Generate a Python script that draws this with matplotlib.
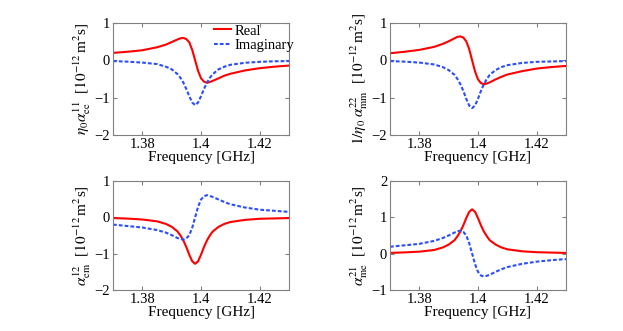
import numpy as np
import matplotlib
matplotlib.use("Agg")
import matplotlib.pyplot as plt

plt.rcParams['font.family'] = ['Liberation Serif', 'DejaVu Serif']
plt.rcParams['mathtext.fontset'] = 'stix'

#-----------------------------------------------
# data

freq = [1.370, 1.375, 1.380, 1.385, 1.388, 1.390, 1.392, 1.393, 1.394, 1.395,
        1.396, 1.397, 1.398, 1.399, 1.400, 1.401, 1.402, 1.403, 1.404, 1.406,
        1.408, 1.410, 1.415, 1.420, 1.425, 1.430]

# eta0 * alpha_ee^11
ee_real = [0.20, 0.23, 0.27, 0.35, 0.42, 0.49, 0.56, 0.59, 0.60, 0.57,
           0.48, 0.28, 0.00, -0.28, -0.48, -0.57, -0.60, -0.58, -0.55, -0.48,
           -0.41, -0.36, -0.27, -0.21, -0.17, -0.14]
ee_imag = [-0.02, -0.035, -0.06, -0.10, -0.17, -0.24, -0.37, -0.47, -0.60, -0.77,
           -0.96, -1.13, -1.20, -1.13, -0.96, -0.77, -0.60, -0.47, -0.37, -0.24,
           -0.17, -0.12, -0.065, -0.04, -0.025, -0.02]

# 1/eta0 * alpha_mm^22
mm_real = [0.19, 0.23, 0.28, 0.36, 0.44, 0.51, 0.59, 0.63, 0.64, 0.61,
           0.51, 0.30, 0.00, -0.30, -0.51, -0.61, -0.64, -0.62, -0.59, -0.51,
           -0.44, -0.38, -0.29, -0.22, -0.18, -0.15]
mm_imag = [-0.02, -0.035, -0.06, -0.11, -0.18, -0.26, -0.39, -0.50, -0.64, -0.82,
           -1.03, -1.21, -1.28, -1.21, -1.03, -0.82, -0.64, -0.50, -0.39, -0.26,
           -0.18, -0.13, -0.07, -0.04, -0.03, -0.02]

# alpha_em^12
em_real = [-0.02, -0.035, -0.06, -0.11, -0.18, -0.26, -0.39, -0.50, -0.64, -0.82,
           -1.03, -1.21, -1.28, -1.21, -1.03, -0.82, -0.64, -0.50, -0.39, -0.26,
           -0.18, -0.13, -0.07, -0.04, -0.03, -0.02]
em_imag = [-0.20, -0.24, -0.28, -0.35, -0.42, -0.49, -0.57, -0.60, -0.61, -0.58,
           -0.49, -0.29, 0.00, 0.29, 0.49, 0.58, 0.61, 0.59, 0.56, 0.49,
           0.42, 0.36, 0.27, 0.21, 0.18, 0.15]

# alpha_me^21
me_real = [0.02, 0.035, 0.055, 0.10, 0.17, 0.25, 0.37, 0.48, 0.61, 0.78,
           0.98, 1.15, 1.22, 1.15, 0.98, 0.78, 0.61, 0.48, 0.37, 0.25,
           0.17, 0.12, 0.065, 0.04, 0.03, 0.02]
me_imag = [0.19, 0.23, 0.27, 0.35, 0.43, 0.50, 0.58, 0.62, 0.63, 0.60,
           0.50, 0.29, 0.00, -0.29, -0.50, -0.60, -0.63, -0.61, -0.58, -0.50,
           -0.43, -0.37, -0.28, -0.22, -0.18, -0.15]

panels = [
    (r'$\eta_0\alpha_{\rm ee}^{11}$  [$10^{-12}\,$m$^2$s]', ee_real, ee_imag, (-2, 1)),
    (r'$1/\eta_0\;\alpha_{\rm mm}^{22}$  [$10^{-12}\,$m$^2$s]', mm_real, mm_imag, (-2, 1)),
    (r'$\alpha_{\rm em}^{12}$  [$10^{-12}\,$m$^2$s]', em_real, em_imag, (-2, 1)),
    (r'$\alpha_{\rm me}^{21}$  [$10^{-12}\,$m$^2$s]', me_real, me_imag, (-1, 2)),
]

positions = [
    [0.1814, 0.5921, 0.2825, 0.3384],
    [0.6260, 0.5921, 0.2825, 0.3384],
    [0.1814, 0.1239, 0.2825, 0.3293],
    [0.6260, 0.1239, 0.2825, 0.3293],
]

#-----------------------------------------------

fig = plt.figure(figsize=(6.23, 3.31), dpi=100)

for k in range(4):
    ylab, yr, yi, ylim = panels[k]
    ax = fig.add_axes(positions[k])
    ax.plot(freq, yr, '-', color='#ff0000', lw=1.5, label='Real')
    ax.plot(freq, yi, '--', color='#2a4dff', lw=1.5, dashes=(1.8, 1.0),
            label='Imaginary')
    ax.set_xlim(1.37, 1.43)
    ax.set_ylim(ylim)
    ax.set_xticks([1.38, 1.4, 1.42])
    ax.set_xticklabels(['1.38', '1.4', '1.42'])
    ax.set_yticks(np.arange(ylim[0], ylim[1] + 1))
    ax.set_yticklabels(['\u2212%d' % -v if v < 0 else '%d' % v
                        for v in range(ylim[0], ylim[1] + 1)])
    ax.tick_params(direction='in', top=True, right=True, length=3,
                   labelsize=10.5, pad=2, color='#808080')
    for s in ax.spines.values():
        s.set_color('#808080')
        s.set_linewidth(0.8)
    ax.set_xlabel('Frequency [GHz]', fontsize=11, labelpad=0)
    ax.set_ylabel(ylab, fontsize=11, labelpad=1)
    if k == 0:
        ax.legend(loc='upper left', bbox_to_anchor=(0.54, 1.04), frameon=False,
                  fontsize=10.5, handlelength=1.2, handletextpad=0.2,
                  labelspacing=0.1, borderaxespad=0)

fig.savefig("out.png", dpi=100)
